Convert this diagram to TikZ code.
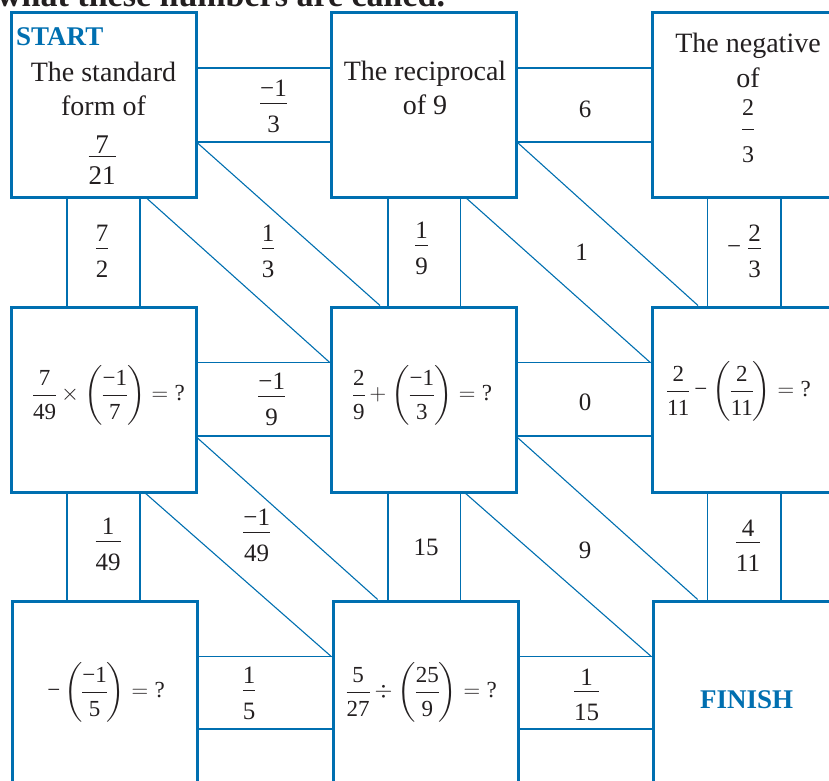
\RequirePackage{fix-cm}
\documentclass[tikz,border=0pt]{standalone}
\usepackage{amsmath}
\usepackage{fontspec}
\setmainfont{Liberation Serif}
\usetikzlibrary{calc}
\definecolor{pblue}{RGB}{0,111,176}
\definecolor{ink}{RGB}{35,31,32}
\setlength{\nulldelimiterspace}{0pt}
% fraction with adjustable numerator / denominator shifts (digits in text font)
\NewDocumentCommand\fr{O{-4.2pt}O{-5.8pt}mm}{\dfrac{\raisebox{#1}[\height][0pt]{#3}}{\raisebox{#2}{#4}}}
\NewDocumentCommand\bfr{mm}{\fr[0pt][-2.7pt]{#1}{#2}}
\newcommand\mn{\text{−}}
\newcommand\qm{=\text{?}}
\tikzset{
  box/.style={draw=pblue, line width=3pt, minimum width=185pt, minimum height=185pt, inner sep=0pt},
  wire/.style={draw=pblue, line width=1.1pt},
  lab/.style={inner sep=0pt, text=ink, font=\fontsize{25}{30}\selectfont, anchor=base},
  bmath/.style={inner sep=0pt, text=ink, font=\fontsize{23}{28}\selectfont, anchor=base},
  word/.style={inner sep=0pt, text=ink, font=\fontsize{28}{34}\selectfont, anchor=base},
  tag/.style={inner sep=0pt, text=pblue, font=\fontsize{27}{32}\selectfont\bfseries, anchor=base},
}
\begin{document}
\begin{tikzpicture}[x=1pt,y=-1pt]
\useasboundingbox (0,0) rectangle (829,780);
\clip (0,0) rectangle (829,780);
% title (cut off at top)
\node[inner sep=0pt, anchor=base west, text=ink, font=\fontsize{34}{40}\selectfont\bfseries] (title) at (-3,6.5) {what these numbers are called.};
% boxes
\node[box] (A) at (103.5,104.5) {};
\node[box] (B) at (424,104.5) {};
\node[box] (C) at (744.5,104.5) {};
\node[box] (D) at (103.5,399.5) {};
\node[box] (E) at (424,399.5) {};
\node[box] (F) at (744.5,399.5) {};
\node[box] (G) at (105,693.5) {};
\node[box] (H) at (425.5,693.5) {};
\node[box] (I) at (745.5,693.5) {};
% horizontal connectors
\foreach \p/\q/\ya/\yb in {A/B/68/142, B/C/68/142, D/E/362.7/436, E/F/362.7/436, G/H/656.7/729, H/I/656.7/729}{
  \draw[wire] (\p.east |- 0,\ya) -- (\q.west |- 0,\ya);
  \draw[wire] (\p.east |- 0,\yb) -- (\q.west |- 0,\yb);
}
% vertical connectors
\foreach \p/\q/\xa/\xb in {A/D/67/140, B/E/388/460.7, C/F/707.7/781, D/G/67/140, E/H/388/460.7, F/I/707.7/781}{
  \draw[wire] (\p.south -| \xa,0) -- (\q.north -| \xa,0);
  \draw[wire] (\p.south -| \xb,0) -- (\q.north -| \xb,0);
}
% diagonal connectors
\draw[wire] (A.east |- 0,143) -- (E.north -| 380,0);
\draw[wire] (A.south -| 147,0) -- (E.west |- 0,362.7);
\draw[wire] (B.east |- 0,143) -- (F.north -| 698,0);
\draw[wire] (B.south -| 466.7,0) -- (F.west |- 0,362.7);
\draw[wire] (D.east |- 0,438) -- (H.north -| 377.7,0);
\draw[wire] (D.south -| 145.7,0) -- (H.west |- 0,656.7);
\draw[wire] (E.east |- 0,438) -- (I.north -| 697.7,0);
\draw[wire] (E.south -| 465.7,0) -- (I.west |- 0,656.7);
% box texts
\node[tag, anchor=base west] (start) at (16,45) {START};
\node[word] (a1) at (103.5,81) {The standard};
\node[word] (a2) at (103.5,115) {form of};
\node[inner sep=0pt, text=ink, font=\fontsize{27}{32}\selectfont, anchor=base] (a3) at (102,163.45) {$\fr[-10pt][-3pt]{7}{21}$};
\node[word] (b1) at (425,80) {The reciprocal};
\node[word] (b2) at (425,114) {of 9};
\node[word] (c1) at (748,52) {The negative};
\node[word] (c2) at (748,87) {of};
\node[inner sep=0pt, text=ink, font=\fontsize{24}{29}\selectfont, anchor=base] (c3) at (748,135) {$\fr[3.6pt][-11pt]{2}{3}$};
\node[bmath] (d) at (109,400.75) {$\bfr{7}{49}\times\left(\bfr{−1}{7}\right)\qm$};
\node[bmath] (e) at (422.5,400.75) {$\bfr{2}{9}+\left(\bfr{−1}{3}\right)\qm$};
\node[bmath] (f) at (739,396.75) {$\bfr{2}{11}\mathbin{\mn}\left(\bfr{2}{11}\right)\qm$};
\node[bmath] (g) at (106,697.75) {$\mn\left(\bfr{−1}{5}\right)\qm$};
\node[bmath] (h) at (421.7,697.75) {$\bfr{5}{27}\div\left(\bfr{25}{9}\right)\qm$};
\node[tag] (finish) at (746.7,708.3) {FINISH};
% connector labels
\node[lab] (lab1) at (273.5,109.25) {$\fr{−1}{3}$};
\node[lab] (lab2) at (585,117) {6};
\node[lab] (lab3) at (102,254.25) {$\fr{7}{2}$};
\node[lab] (lab4) at (268,254.25) {$\fr{1}{3}$};
\node[lab] (lab5) at (421.7,251.25) {$\fr{1}{9}$};
\node[lab] (lab6) at (581.7,260.7) {1};
\node[lab] (lab7) at (744,254.25) {$\mn\mkern5mu\fr{2}{3}$};
\node[lab] (lab8) at (271.7,402.25) {$\fr{−1}{9}$};
\node[lab] (lab9) at (585,410.7) {0};
\node[lab] (lab10) at (108,547.25) {$\fr{1}{49}$};
\node[lab] (lab11) at (256.7,538.55) {$\fr{−1}{49}$};
\node[lab] (lab12) at (426,555) {15};
\node[lab] (lab13) at (585,558) {9};
\node[lab] (lab14) at (748,548.95) {$\fr{4}{11}$};
\node[lab] (lab15) at (249,696.25) {$\fr{1}{5}$};
\node[lab] (lab16) at (586.7,697.95) {$\fr{1}{15}$};
\end{tikzpicture}
\end{document}
